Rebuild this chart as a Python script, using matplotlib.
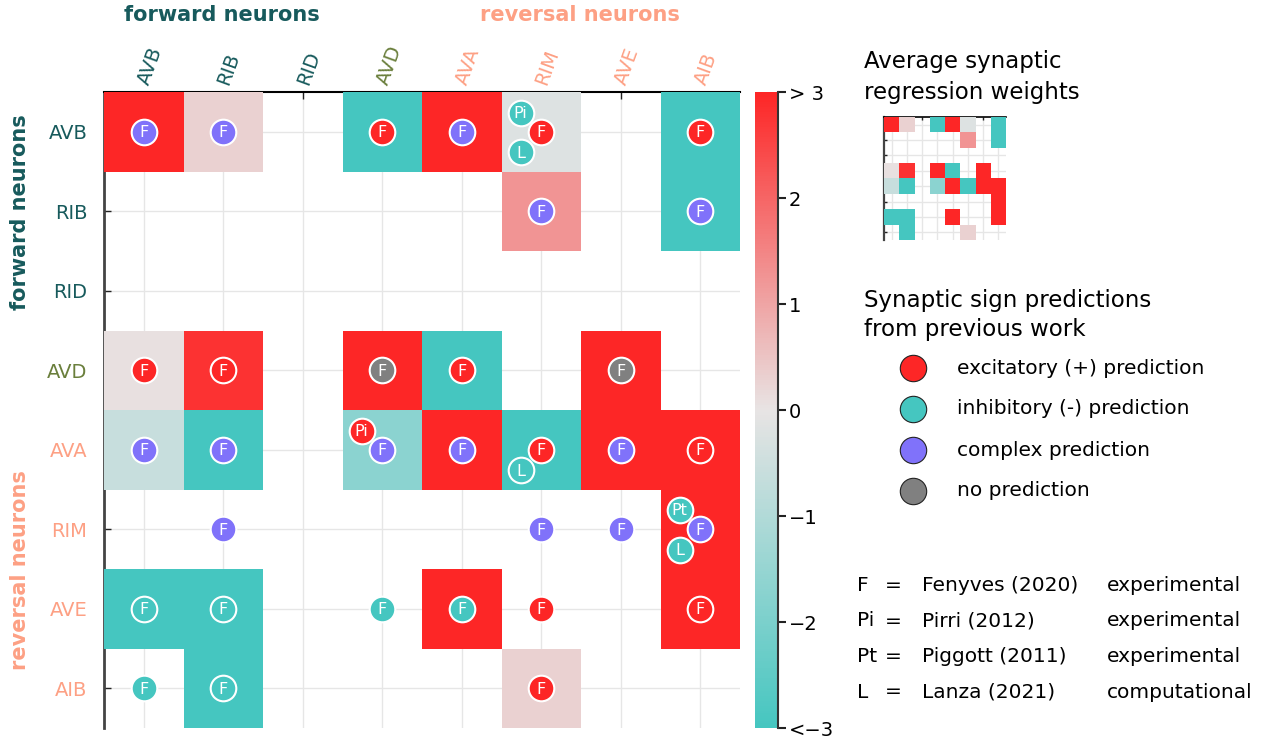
import matplotlib

matplotlib.use("Agg")
import matplotlib.pyplot as plt
import numpy as np
from matplotlib.colors import LinearSegmentedColormap, Normalize
from matplotlib.colorbar import ColorbarBase

nan = np.nan

# neurons in plotting order (rows = y axis, columns = x axis)
neurons = ["AVB", "RIB", "RID", "AVD", "AVA", "RIM", "AVE", "AIB"]
forward = ["AVB", "RIB", "RID"]
reversal = ["AVA", "RIM", "AVE", "AIB"]

# average synaptic regression weights, NaN = no synapse
weights = np.array([
    [3.0, 0.3, nan, -3.0, 3.0, -0.2, nan, -3.0],   # AVB
    [nan, nan, nan, nan, nan, 1.25, nan, -3.0],    # RIB
    [nan, nan, nan, nan, nan, nan, nan, nan],      # RID
    [0.05, 2.8, nan, 3.0, -3.0, nan, 3.0, nan],    # AVD
    [-0.6, -3.0, nan, -1.7, 3.0, -3.0, 3.0, 3.0],  # AVA
    [nan, nan, nan, nan, nan, nan, nan, 3.0],      # RIM
    [-3.0, -3.0, nan, nan, 3.0, nan, nan, 3.0],    # AVE
    [nan, -3.0, nan, nan, nan, 0.3, nan, nan],     # AIB
])

# sign predictions from previous work: (row neuron, column neuron, source, kind)
predictions = [
    ("AVB", "AVB", "F", "cpx"), ("AVB", "RIB", "F", "cpx"), ("AVB", "AVD", "F", "exc"),
    ("AVB", "AVA", "F", "cpx"), ("AVB", "RIM", "Pi", "inh"), ("AVB", "RIM", "F", "exc"),
    ("AVB", "RIM", "L", "inh"), ("AVB", "AIB", "F", "exc"),
    ("RIB", "RIM", "F", "cpx"), ("RIB", "AIB", "F", "cpx"),
    ("AVD", "AVB", "F", "exc"), ("AVD", "RIB", "F", "exc"), ("AVD", "AVD", "F", "none"),
    ("AVD", "AVA", "F", "exc"), ("AVD", "AVE", "F", "none"),
    ("AVA", "AVB", "F", "cpx"), ("AVA", "RIB", "F", "cpx"), ("AVA", "AVD", "Pi", "exc"),
    ("AVA", "AVD", "F", "cpx"), ("AVA", "AVA", "F", "cpx"), ("AVA", "RIM", "F", "exc"),
    ("AVA", "RIM", "L", "inh"), ("AVA", "AVE", "F", "cpx"), ("AVA", "AIB", "F", "exc"),
    ("RIM", "RIB", "F", "cpx"), ("RIM", "RIM", "F", "cpx"), ("RIM", "AVE", "F", "cpx"),
    ("RIM", "AIB", "Pt", "inh"), ("RIM", "AIB", "F", "cpx"), ("RIM", "AIB", "L", "inh"),
    ("AVE", "AVB", "F", "inh"), ("AVE", "RIB", "F", "inh"), ("AVE", "AVD", "F", "inh"),
    ("AVE", "AVA", "F", "inh"), ("AVE", "RIM", "F", "exc"), ("AVE", "AIB", "F", "exc"),
    ("AIB", "AVB", "F", "inh"), ("AIB", "RIB", "F", "inh"), ("AIB", "RIM", "F", "exc"),
]

legend_kinds = ["exc", "inh", "cpx", "none"]
legend_labels = ["excitatory (+) prediction", "inhibitory (-) prediction",
                 "complex prediction", "no prediction"]

sources = ["F", "Pi", "Pt", "L"]
source_names = ["Fenyves (2020)", "Pirri (2012)", "Piggott (2011)", "Lanza (2021)"]
source_types = ["experimental", "experimental", "experimental", "computational"]

cbar_ticks = [-3, -2, -1, 0, 1, 2, 3]
cbar_labels = ["<\u22123", "\u22122", "\u22121", "0", "1", "2", "> 3"]

# colours
RED = "#fd2626"
TEAL = "#45c6c0"
PURPLE = "#8072fa"
GREY = "#808080"
FWD_COL = "#175a5c"
AVD_COL = "#6a7f3c"
REV_COL = "#fda084"
kind_colors = {"exc": RED, "inh": TEAL, "cpx": PURPLE, "none": GREY}
# marker offset inside a cell, in cell units
slot = {"F": (0.0, 0.0), "Pi": (-0.26, -0.24), "Pt": (-0.26, -0.24), "L": (-0.26, 0.26)}

cmap = LinearSegmentedColormap.from_list("weights", [TEAL, "#e8e4e4", RED])
norm = Normalize(vmin=-3, vmax=3)


def name_color(n):
    if n in forward:
        return FWD_COL
    if n in reversal:
        return REV_COL
    return AVD_COL


def px(x, y):
    return x / 1275, 1 - y / 742


def draw_matrix(ax, tick_len, spine_lw):
    n = len(neurons)
    ax.pcolormesh(np.arange(n + 1) - 0.5, np.arange(n + 1) - 0.5,
                  np.ma.masked_invalid(weights), cmap=cmap, norm=norm, zorder=3)
    ax.set_xlim(-0.5, n - 0.5)
    ax.set_ylim(n - 0.5, -0.5)
    ax.set_xticks(range(n))
    ax.set_yticks(range(n))
    ax.grid(True, color="#e6e6e6", lw=1, zorder=0)
    ax.set_axisbelow(True)
    ax.xaxis.tick_top()
    for s in ("right", "bottom"):
        ax.spines[s].set_visible(False)
    ax.spines["left"].set_color("#444444")
    ax.spines["left"].set_linewidth(spine_lw)
    ax.spines["top"].set_color("black")
    ax.spines["top"].set_linewidth(spine_lw * 0.75)
    ax.tick_params(direction="in", length=tick_len, width=1, color="#222222")


fig = plt.figure(figsize=(12.75, 7.42), dpi=100)

# main weight matrix
l, b = px(104, 728)
ax = fig.add_axes([l, b, 636 / 1275, 636 / 742])
draw_matrix(ax, 5, 2)
ax.set_xticklabels(neurons, rotation=70, ha="left", va="center",
                   rotation_mode="anchor", fontsize=14)
ax.set_yticklabels(neurons, fontsize=14)
ax.tick_params(axis="x", pad=6)
ax.tick_params(axis="y", pad=12)
for lab in ax.get_xticklabels() + ax.get_yticklabels():
    lab.set_color(name_color(lab.get_text()))

for pre, post, src, kind in predictions:
    dx, dy = slot[src]
    x = neurons.index(post) + dx
    y = neurons.index(pre) + dy
    ax.scatter(x, y, s=340, color=kind_colors[kind], edgecolor="white",
               linewidth=1.5, zorder=5)
    ax.text(x, y + 0.01, src, color="white", ha="center", va="center",
            fontsize=11.5, zorder=6)

# group titles
fig.text(*px(222, 15), "forward neurons", color=FWD_COL, fontsize=15,
         fontweight="bold", ha="center", va="center")
fig.text(*px(580, 15), "reversal neurons", color=REV_COL, fontsize=15,
         fontweight="bold", ha="center", va="center")
fig.text(*px(20, 212), "forward neurons", color=FWD_COL, fontsize=15,
         fontweight="bold", ha="center", va="center", rotation=90)
fig.text(*px(20, 570), "reversal neurons", color=REV_COL, fontsize=15,
         fontweight="bold", ha="center", va="center", rotation=90)

# colour bar
cl, cb_ = px(755, 728)
cax = fig.add_axes([cl, cb_, 23 / 1275, 636 / 742])
cb = ColorbarBase(cax, cmap=cmap, norm=norm, ticks=cbar_ticks)
cb.outline.set_visible(False)
cb.set_ticklabels(cbar_labels)
cax.tick_params(labelsize=14, length=6, width=1.5, color="#222222", pad=2)
cax.plot([1, 1], [0, 1], transform=cax.transAxes, color="#333333", lw=1.5,
         clip_on=False)

# small overview copy of the matrix
il, ib = px(884, 240)
axins = fig.add_axes([il, ib, 122 / 1275, 123 / 742])
draw_matrix(axins, 2, 1.6)
axins.set_xticklabels([])
axins.set_yticklabels([])

fig.text(*px(864, 68), "Average synaptic", fontsize=16.5, va="baseline")
fig.text(*px(864, 99), "regression weights", fontsize=16.5, va="baseline")
fig.text(*px(864, 307), "Synaptic sign predictions", fontsize=16.5, va="baseline")
fig.text(*px(864, 336), "from previous work", fontsize=16.5, va="baseline")

for i, (kind, label) in enumerate(zip(legend_kinds, legend_labels)):
    yy = 368 + i * 41
    mx, my = px(913, yy)
    fig.add_artist(plt.Line2D([mx], [my], marker="o", markersize=19,
                              color=kind_colors[kind], markeredgecolor="#222222",
                              markeredgewidth=0.8, transform=fig.transFigure))
    fig.text(*px(957, yy), label, fontsize=14.5, va="center")

for i, (src, name, typ) in enumerate(zip(sources, source_names, source_types)):
    yy = 591 + i * 35.5
    fig.text(*px(857, yy), src, fontsize=14.5, va="baseline")
    fig.text(*px(893, yy), "=", fontsize=14.5, va="baseline", ha="center")
    fig.text(*px(922, yy), name, fontsize=14.5, va="baseline")
    fig.text(*px(1107, yy), typ, fontsize=14.5, va="baseline")

fig.savefig("out.png", dpi=100)
